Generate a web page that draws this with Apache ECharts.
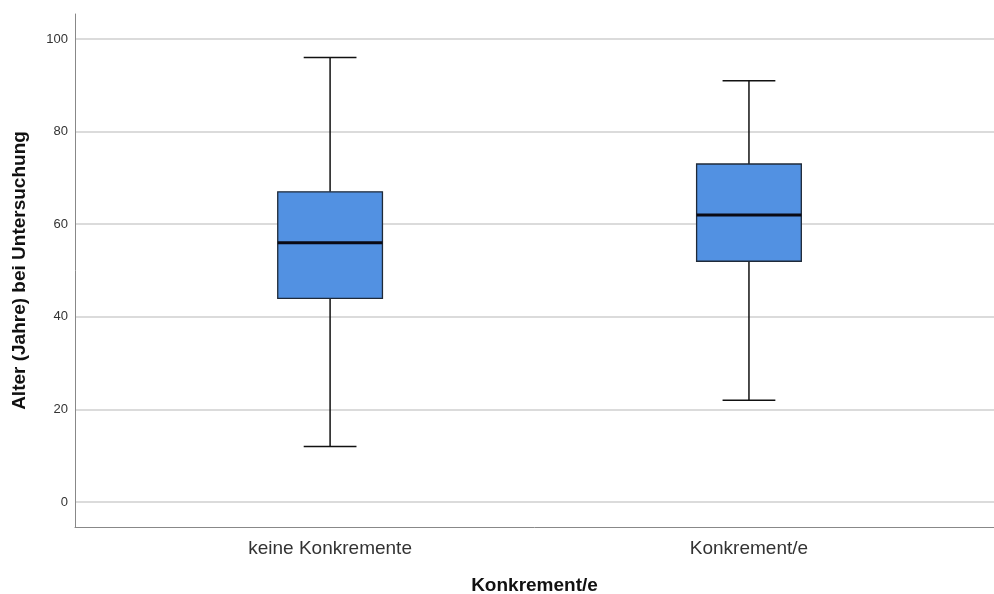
<!DOCTYPE html>
<html>
<head>
<meta charset="utf-8">
<script src="https://cdn.jsdelivr.net/npm/echarts@6/dist/echarts.min.js"></script>
<style>
  html, body { margin: 0; padding: 0; background: #fff; }
  #chart { width: 994px; height: 594px; }
</style>
</head>
<body>
<div id="chart"></div>
<script>
// Boxplot statistics
var categories = ['keine Konkremente', 'Konkrement/e'];
var minVals    = [12, 22];
var q1Vals     = [44, 52];
var medianVals = [56, 62];
var q3Vals     = [67, 73];
var maxVals    = [96, 91];
var yTicks     = [0, 20, 40, 60, 80, 100];

var boxWidth = 0.25;  // in x units
var capWidth = 0.126;

var boxData = categories.map(function (c, i) {
    return [i, minVals[i], q1Vals[i], medianVals[i], q3Vals[i], maxVals[i]];
});

var chart = echarts.init(document.getElementById('chart'));

var option = {
    animation: false,
    grid: {
        left: 75,
        right: 0,
        top: 14,
        bottom: 67,
        containLabel: false,
        outerBoundsMode: 'none'
    },
    xAxis: {
        type: 'value',
        min: -0.609,
        max: 1.585,
        name: 'Konkrement/e',
        nameLocation: 'middle',
        nameGap: 49,
        nameTextStyle: {
            fontFamily: 'Liberation Sans',
            fontSize: 19,
            fontWeight: 'bold',
            color: '#111'
        },
        axisLine: { show: true, onZero: false, lineStyle: { color: '#888', width: 1 } },
        axisTick: { show: false },
        splitLine: { show: false },
        axisLabel: {
            customValues: [0, 1],
            margin: 12,
            fontFamily: 'Liberation Sans',
            fontSize: 19,
            color: '#333',
            formatter: function (v) {
                return categories[Math.round(v)];
            }
        }
    },
    yAxis: {
        type: 'value',
        min: -5.4,
        max: 105.4,
        name: 'Alter (Jahre) bei Untersuchung',
        nameLocation: 'middle',
        nameGap: 46,
        nameTextStyle: {
            fontFamily: 'Liberation Sans',
            fontSize: 19,
            fontWeight: 'bold',
            color: '#111'
        },
        axisLine: { show: true, onZero: false, lineStyle: { color: '#888', width: 1 } },
        axisTick: { show: false, customValues: yTicks },
        splitLine: { show: true, lineStyle: { color: '#cfcfcf', width: 1.5 } },
        axisLabel: {
            customValues: yTicks,
            margin: 7,
            fontFamily: 'Liberation Sans',
            fontSize: 13,
            color: '#333'
        }
    },
    series: [{
        type: 'custom',
        data: boxData,
        encode: { x: 0, y: [1, 2, 3, 4, 5] },
        renderItem: function (params, api) {
            var x = api.value(0);
            var pMin = api.coord([x, api.value(1)]);
            var pQ1 = api.coord([x, api.value(2)]);
            var pMed = api.coord([x, api.value(3)]);
            var pQ3 = api.coord([x, api.value(4)]);
            var pMax = api.coord([x, api.value(5)]);
            var bw = api.size([boxWidth, 0])[0];
            var cw = api.size([capWidth, 0])[0];
            var cx = pMed[0];
            var lineStyle = { stroke: '#111', lineWidth: 1.5 };
            return {
                type: 'group',
                children: [
                    { type: 'line', shape: { x1: cx, y1: pMax[1], x2: cx, y2: pQ3[1] }, style: lineStyle },
                    { type: 'line', shape: { x1: cx, y1: pQ1[1], x2: cx, y2: pMin[1] }, style: lineStyle },
                    { type: 'line', shape: { x1: cx - cw / 2, y1: pMax[1], x2: cx + cw / 2, y2: pMax[1] }, style: lineStyle },
                    { type: 'line', shape: { x1: cx - cw / 2, y1: pMin[1], x2: cx + cw / 2, y2: pMin[1] }, style: lineStyle },
                    {
                        type: 'rect',
                        shape: { x: cx - bw / 2, y: pQ3[1], width: bw, height: pQ1[1] - pQ3[1] },
                        style: { fill: '#5291e2', stroke: '#1f2a38', lineWidth: 1.3 }
                    },
                    { type: 'line', shape: { x1: cx - bw / 2, y1: pMed[1], x2: cx + bw / 2, y2: pMed[1] }, style: { stroke: '#0a0a14', lineWidth: 3 } }
                ]
            };
        }
    }]
};

chart.setOption(option);
</script>
</body>
</html>
